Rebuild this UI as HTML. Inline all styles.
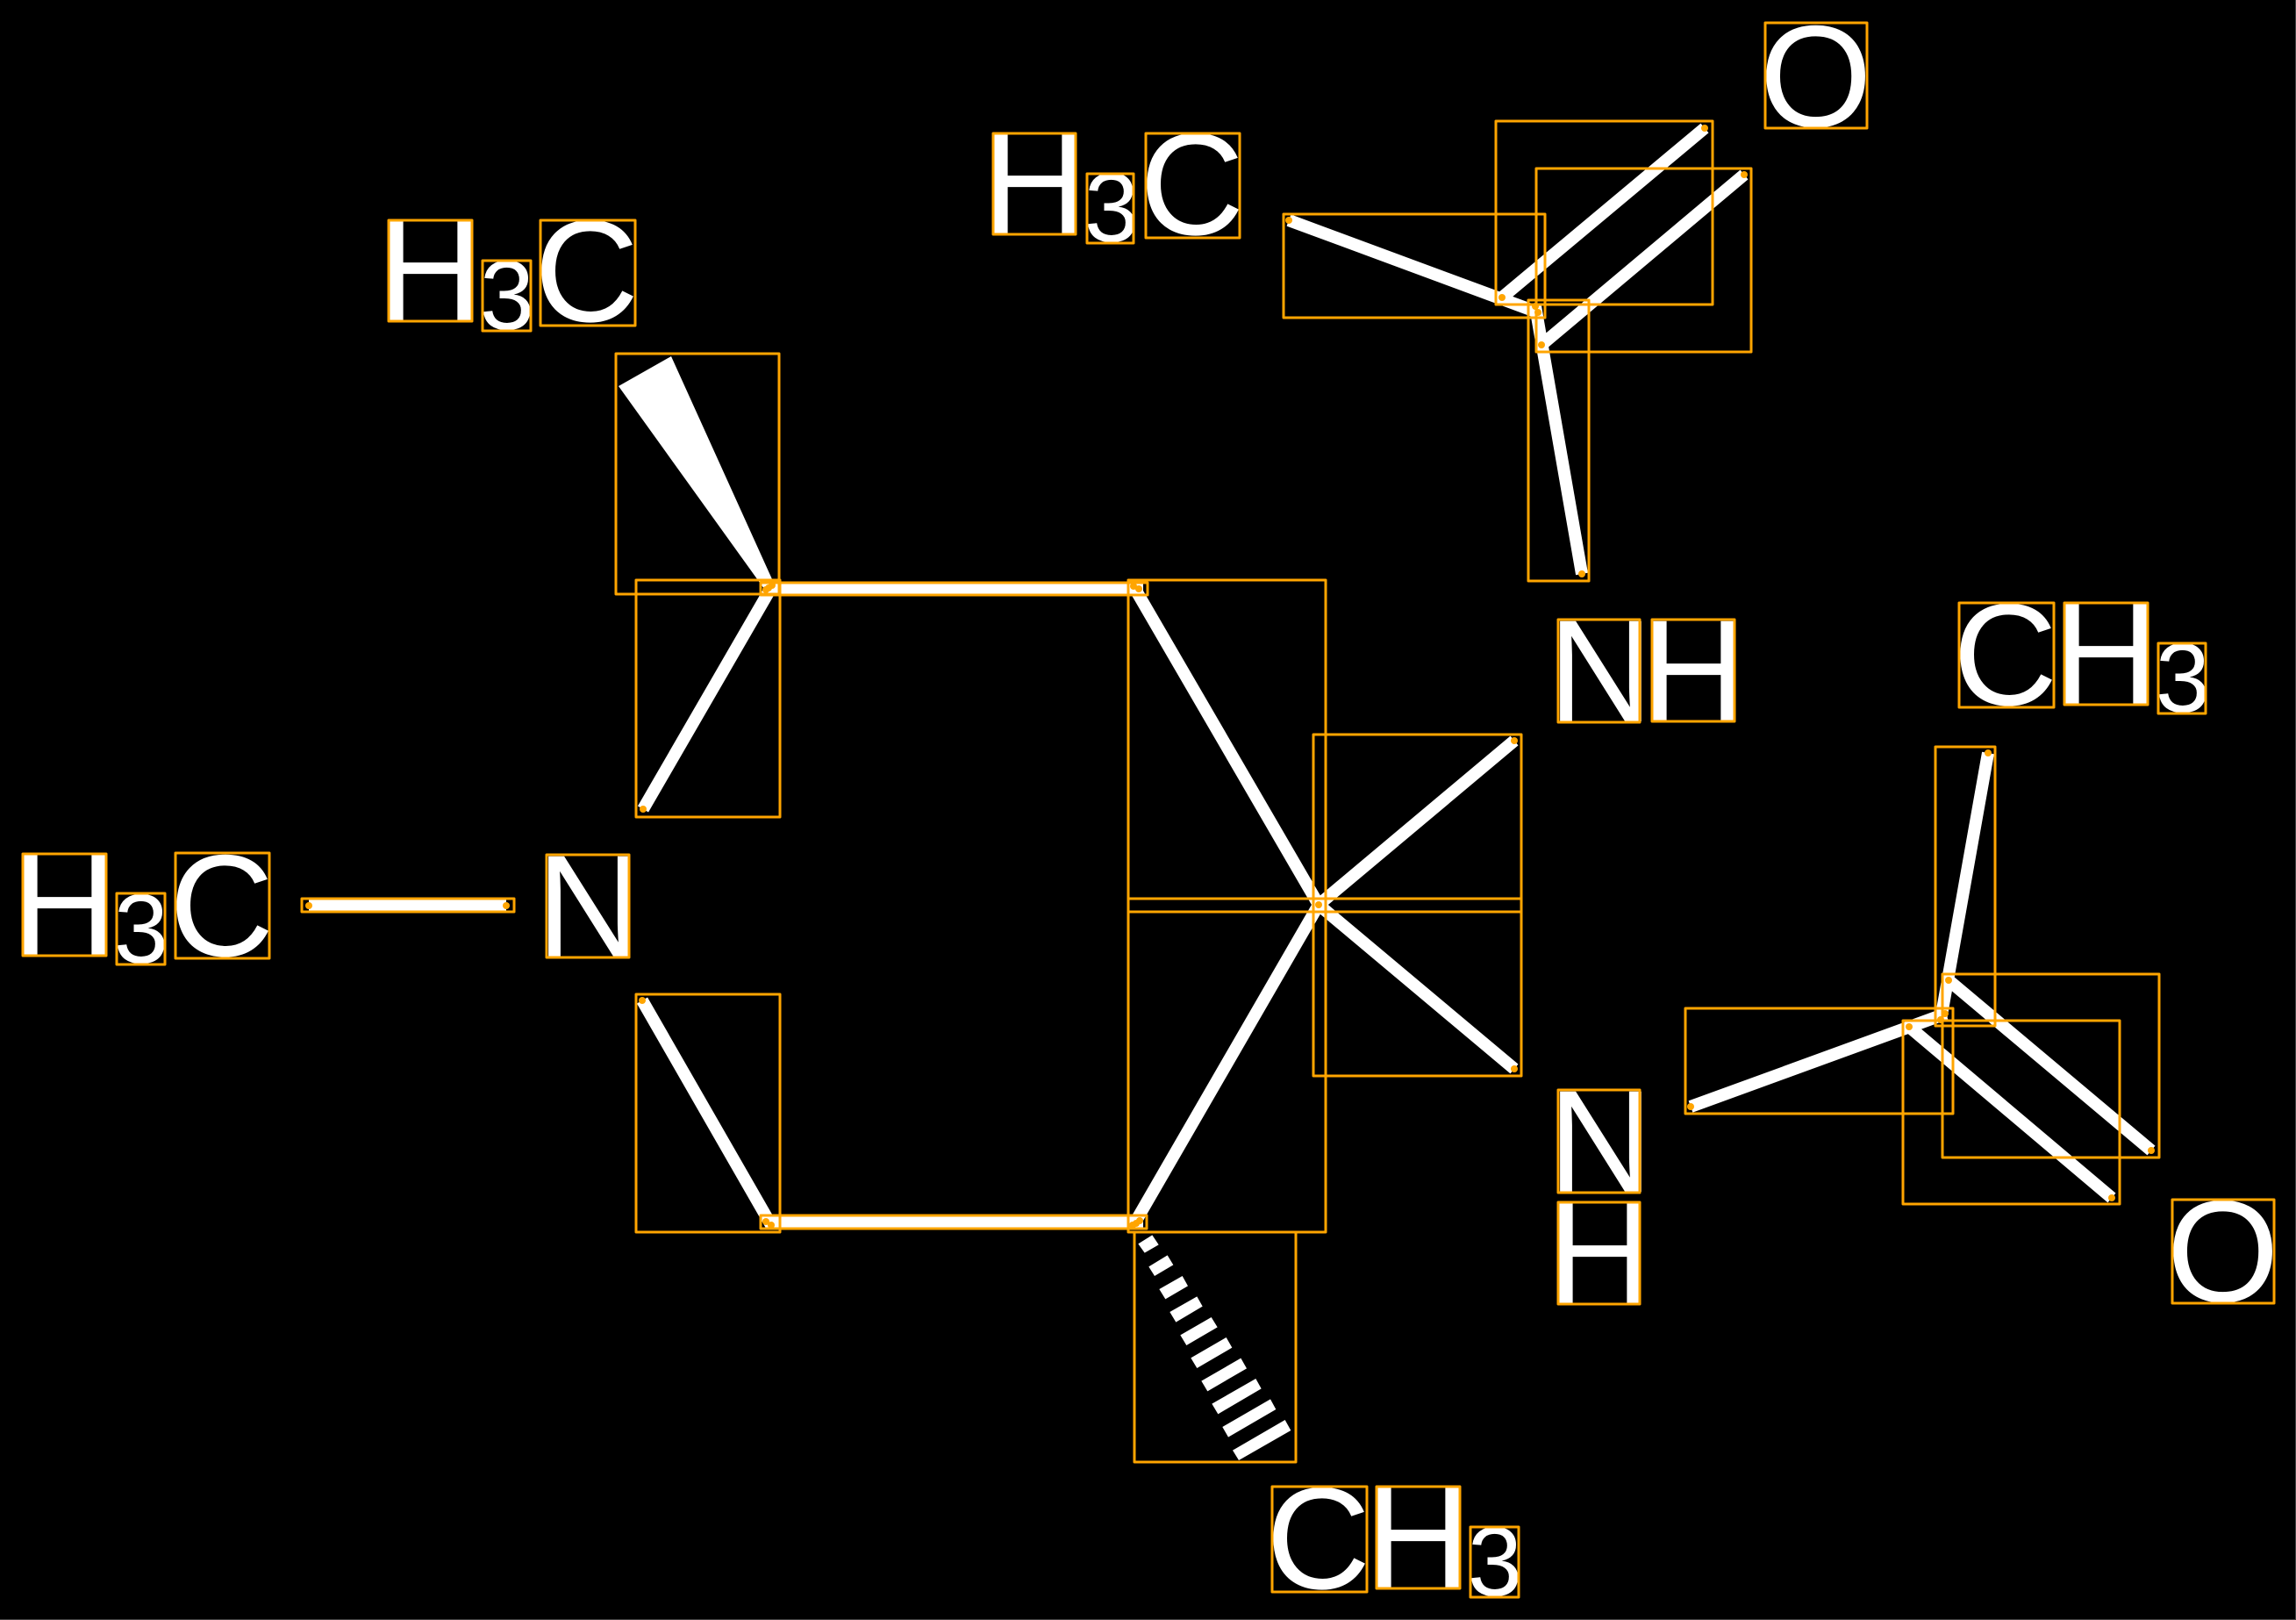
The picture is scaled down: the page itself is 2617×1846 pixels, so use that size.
<!DOCTYPE html>
<html>
<head>
<meta charset="utf-8">
<style>
html,body{margin:0;padding:0;background:#000;width:2617px;height:1846px;overflow:hidden}
svg{display:block}
text{font-family:"Liberation Sans",sans-serif;fill:#fff;text-rendering:geometricPrecision}
.b{font-size:166px}
.c{font-size:165px}
.s{font-size:112px}
</style>
</head>
<body>
<svg xmlns="http://www.w3.org/2000/svg" width="2617" height="1846" viewBox="0 0 2617 1846">
<rect x="0" y="0" width="2617" height="1846" fill="#000"/>
<path d="M2616.5 0V1845.5H0" fill="none" stroke="#444" stroke-width="1"/>

<!-- labels -->
<text class="b" x="430.5" y="365">H</text><text class="s" x="546.7" y="375">3</text><text class="c" x="609" y="366">C</text>
<text class="b" x="1119.5" y="266">H</text><text class="s" x="1235.7" y="275">3</text><text class="c" x="1299" y="267">C</text>
<text class="b" x="13.5" y="1088">H</text><text class="s" x="129.7" y="1097">3</text><text class="c" x="193" y="1089">C</text>
<text class="b" x="611.5" y="1090">N</text>
<text class="c" x="2005.5" y="144">O</text>
<text class="b" x="1764.5" y="822">N</text><text class="b" x="1870.5" y="822">H</text>
<text class="b" x="1764.5" y="1358">N</text><text class="b" x="1763.5" y="1485">H</text>
<text class="c" x="2226" y="803">C</text><text class="b" x="2340.5" y="802">H</text><text class="s" x="2456.7" y="811">3</text>
<text class="c" x="2469.5" y="1483">O</text>
<text class="c" x="1443" y="1810">C</text><text class="b" x="1556.5" y="1809">H</text><text class="s" x="1672.7" y="1818">3</text>

<!-- bonds -->
<g stroke="#fff" stroke-width="14" fill="none" stroke-linecap="butt">
<line x1="352" y1="1032" x2="577" y2="1032"/>
<line x1="873" y1="671" x2="1303" y2="671"/>
<line x1="873" y1="1392" x2="1303" y2="1392"/>
<line x1="880" y1="668" x2="733" y2="922"/>
<line x1="732" y1="1140" x2="879" y2="1396"/>
<line x1="1292" y1="668" x2="1503" y2="1031"/>
<line x1="1503" y1="1031" x2="1292" y2="1396"/>
<line x1="1503" y1="1031" x2="1726" y2="844"/>
<line x1="1503" y1="1031" x2="1726" y2="1218"/>
<line x1="1469" y1="251" x2="1753" y2="356"/>
<line x1="1712" y1="339" x2="1943" y2="146"/>
<line x1="1757" y1="393" x2="1988" y2="199"/>
<line x1="1750" y1="349" x2="1803" y2="654"/>
<line x1="1927" y1="1261" x2="2218" y2="1155"/>
<line x1="2212" y1="1162" x2="2266" y2="858"/>
<line x1="2221" y1="1117" x2="2452" y2="1311"/>
<line x1="2176" y1="1170" x2="2407" y2="1365"/>
</g>

<!-- wedge -->
<polygon points="705,440 765,406 885,671 871,671" fill="#fff"/>

<!-- hashed wedge -->
<g fill="#fff" transform="translate(1270,1360) scale(0.33333)">
<polygon points="82,172 130,142 152,175 104,203"/>
<polygon points="118,250 182,211 202,244 138,282"/>
<polygon points="154,327 233,282 252,316 175,361"/>
<polygon points="190,405 283,352 302,386 211,440"/>
<polygon points="226,484 332,423 353,457 247,519"/>
<polygon points="262,562 383,492 403,527 283,597"/>
<polygon points="298,641 433,563 453,598 319,676"/>
<polygon points="334,719 484,633 503,667 355,754"/>
<polygon points="370,798 534,703 553,738 390,833"/>
<polygon points="405,878 584,774 604,810 426,912"/>
</g>

<!-- orange boxes -->
<g fill="none" stroke="#FFA500" stroke-width="3" stroke-linejoin="round">
<rect x="443" y="251" width="95" height="115"/>
<rect x="550" y="297" width="55" height="80"/>
<rect x="616" y="251" width="108" height="120"/>
<rect x="1132" y="152" width="94" height="115"/>
<rect x="1239" y="198" width="53" height="79"/>
<rect x="1306" y="152" width="107" height="119"/>
<rect x="26" y="973" width="95" height="116"/>
<rect x="133" y="1018" width="55" height="81"/>
<rect x="200" y="972" width="107" height="120"/>
<rect x="623" y="974" width="94" height="117"/>
<rect x="2012" y="26" width="116" height="120"/>
<rect x="1776" y="706" width="93" height="117"/>
<rect x="1883" y="706" width="94" height="116"/>
<rect x="1776" y="1242" width="93" height="117"/>
<rect x="1776" y="1370" width="93" height="116"/>
<rect x="2233" y="687" width="108" height="119"/>
<rect x="2353" y="687" width="95" height="116"/>
<rect x="2460" y="733" width="54" height="80"/>
<rect x="2476" y="1367" width="116" height="118"/>
<rect x="1450" y="1694" width="108" height="120"/>
<rect x="1569" y="1694" width="95" height="116"/>
<rect x="1676" y="1740" width="55" height="80"/>

<rect x="702" y="403" width="186" height="274"/>
<rect x="725" y="661" width="164" height="270"/>
<rect x="867" y="664" width="441" height="14"/>
<rect x="1286" y="661" width="225" height="378"/>
<rect x="1286" y="1024" width="225" height="380"/>
<rect x="1497" y="837" width="237" height="202"/>
<rect x="1497" y="1024" width="237" height="202"/>
<rect x="725" y="1133" width="164" height="271"/>
<rect x="867" y="1385" width="440" height="15"/>
<rect x="1293" y="1404" width="184" height="262"/>
<rect x="344" y="1024" width="242" height="15"/>
<rect x="1463" y="244" width="298" height="118"/>
<rect x="1705" y="138" width="247" height="209"/>
<rect x="1751" y="192" width="245" height="209"/>
<rect x="1742" y="342" width="69" height="320"/>
<rect x="1921" y="1149" width="305" height="120"/>
<rect x="2206" y="851" width="68" height="318"/>
<rect x="2214" y="1110" width="247" height="209"/>
<rect x="2169" y="1163" width="247" height="209"/>
</g>

<!-- endpoint dots -->
<g fill="#FFA500">
<circle cx="352" cy="1032" r="4"/><circle cx="577" cy="1032" r="4"/>
<circle cx="873" cy="672" r="4"/><circle cx="880" cy="667" r="4"/><circle cx="876" cy="670" r="4"/>
<circle cx="1292" cy="668" r="4"/><circle cx="1298" cy="671" r="4"/>
<circle cx="733" cy="922" r="4"/><circle cx="732" cy="1140" r="4"/>
<circle cx="873" cy="1392" r="4"/><circle cx="879" cy="1396" r="4"/>
<circle cx="1291" cy="1396" r="4"/><circle cx="1295" cy="1394" r="4"/><circle cx="1299" cy="1391" r="4"/>
<circle cx="1503" cy="1031" r="4"/><circle cx="1726" cy="844" r="4"/><circle cx="1726" cy="1218" r="4"/>
<circle cx="1469" cy="251" r="4"/><circle cx="1753" cy="356" r="4"/><circle cx="1750" cy="349" r="4"/>
<circle cx="1712" cy="339" r="4"/><circle cx="1943" cy="146" r="4"/>
<circle cx="1757" cy="393" r="4"/><circle cx="1988" cy="199" r="4"/>
<circle cx="1803" cy="654" r="4"/>
<circle cx="1927" cy="1261" r="4"/><circle cx="2212" cy="1162" r="4"/><circle cx="2217" cy="1155" r="4"/>
<circle cx="2266" cy="858" r="4"/><circle cx="2221" cy="1117" r="4"/><circle cx="2452" cy="1311" r="4"/>
<circle cx="2176" cy="1170" r="4"/><circle cx="2407" cy="1365" r="4"/>
</g>
</svg>
</body>
</html>
